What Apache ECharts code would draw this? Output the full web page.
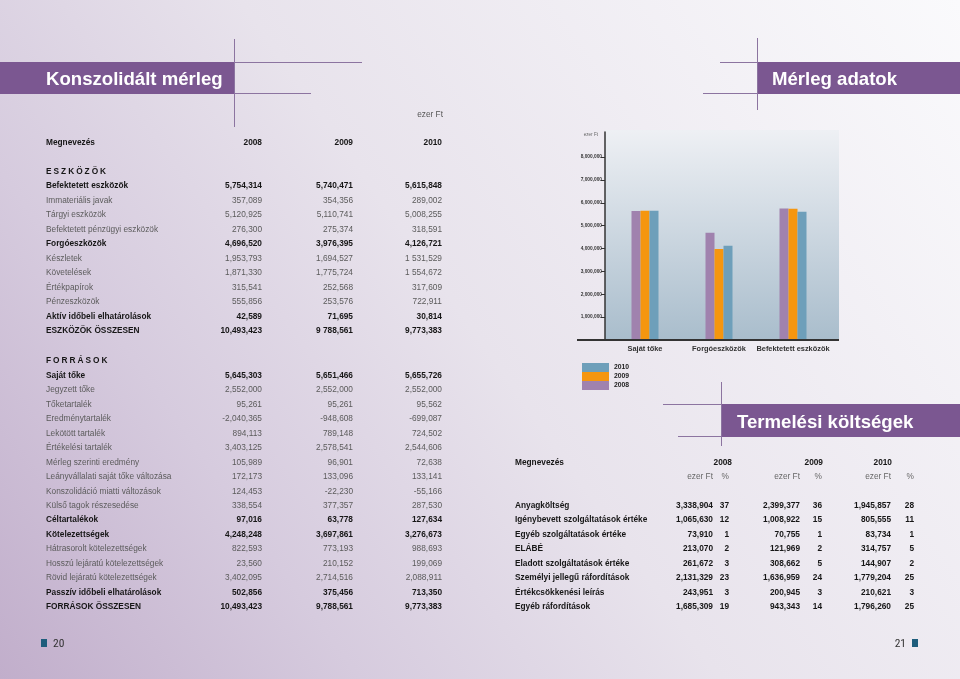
<!DOCTYPE html>
<html>
<head>
<meta charset="utf-8">
<script src="https://cdn.jsdelivr.net/npm/echarts@6/dist/echarts.min.js"></script>
<style>
html,body{margin:0;padding:0;width:960px;height:679px;overflow:hidden;}
#chart{position:absolute;left:0;top:0;width:960px;height:679px;}
#overlay{position:absolute;left:0;top:0;width:960px;height:679px;pointer-events:none;font-family:"Liberation Sans",Arial,sans-serif;}
.t{position:absolute;white-space:nowrap;height:12px;line-height:12px;}
</style>
</head>
<body>
<div id="chart"></div>
<div id="overlay"></div>
<script>
// ---------- DATA ----------
const years = ['2008', '2009', '2010'];

// Chart (Mérleg adatok)
const chartCategories = ['Saját tőke', 'Forgóeszközök', 'Befektetett eszközök'];
const chartValues2008 = [5645303, 4696520, 5754314];
const chartValues2009 = [5651466, 3976395, 5740471];
const chartValues2010 = [5655726, 4126721, 5615848];
const chartTickValues = [1000000, 2000000, 3000000, 4000000, 5000000, 6000000, 7000000, 8000000];

// Konszolidált mérleg – ESZKÖZÖK
const assetLabels = ['Befektetett eszközök', 'Immateriális javak', 'Tárgyi eszközök', 'Befektetett pénzügyi eszközök',
  'Forgóeszközök', 'Készletek', 'Követelések', 'Értékpapírok', 'Pénzeszközök', 'Aktív időbeli elhatárolások', 'ESZKÖZÖK ÖSSZESEN'];
const assetBold = [true, false, false, false, true, false, false, false, false, true, true];
const assets2008 = ['5,754,314', '357,089', '5,120,925', '276,300', '4,696,520', '1,953,793', '1,871,330', '315,541', '555,856', '42,589', '10,493,423'];
const assets2009 = ['5,740,471', '354,356', '5,110,741', '275,374', '3,976,395', '1,694,527', '1,775,724', '252,568', '253,576', '71,695', '9 788,561'];
const assets2010 = ['5,615,848', '289,002', '5,008,255', '318,591', '4,126,721', '1 531,529', '1 554,672', '317,609', '722,911', '30,814', '9,773,383'];

// Konszolidált mérleg – FORRÁSOK
const sourceLabels = ['Saját tőke', 'Jegyzett tőke', 'Tőketartalék', 'Eredménytartalék', 'Lekötött tartalék', 'Értékelési tartalék',
  'Mérleg szerinti eredmény', 'Leányvállalati saját tőke változása', 'Konszolidáció miatti változások', 'Külső tagok részesedése',
  'Céltartalékok', 'Kötelezettségek', 'Hátrasorolt kötelezettségek', 'Hosszú lejáratú kötelezettségek', 'Rövid lejáratú kötelezettségek',
  'Passzív időbeli elhatárolások', 'FORRÁSOK ÖSSZESEN'];
const sourceBold = [true, false, false, false, false, false, false, false, false, false, true, true, false, false, false, true, true];
const sources2008 = ['5,645,303', '2,552,000', '95,261', '-2,040,365', '894,113', '3,403,125', '105,989', '172,173', '124,453', '338,554', '97,016', '4,248,248', '822,593', '23,560', '3,402,095', '502,856', '10,493,423'];
const sources2009 = ['5,651,466', '2,552,000', '95,261', '-948,608', '789,148', '2,578,541', '96,901', '133,096', '-22,230', '377,357', '63,778', '3,697,861', '773,193', '210,152', '2,714,516', '375,456', '9,788,561'];
const sources2010 = ['5,655,726', '2,552,000', '95,562', '-699,087', '724,502', '2,544,606', '72,638', '133,141', '-55,166', '287,530', '127,634', '3,276,673', '988,693', '199,069', '2,088,911', '713,350', '9,773,383'];

// Termelési költségek
const costLabels = ['Anyagköltség', 'Igénybevett szolgáltatások értéke', 'Egyéb szolgáltatások értéke', 'ELÁBÉ',
  'Eladott szolgáltatások értéke', 'Személyi jellegű ráfordítások', 'Értékcsökkenési leírás', 'Egyéb ráfordítások'];
const costs2008 = ['3,338,904', '1,065,630', '73,910', '213,070', '261,672', '2,131,329', '243,951', '1,685,309'];
const costPct2008 = ['37', '12', '1', '2', '3', '23', '3', '19'];
const costs2009 = ['2,399,377', '1,008,922', '70,755', '121,969', '308,662', '1,636,959', '200,945', '943,343'];
const costPct2009 = ['36', '15', '1', '2', '5', '24', '3', '14'];
const costs2010 = ['1,945,857', '805,555', '83,734', '314,757', '144,907', '1,779,204', '210,621', '1,796,260'];
const costPct2010 = ['28', '11', '1', '5', '2', '25', '3', '25'];

// ---------- STYLE ----------
const FONT = '"Liberation Sans", Arial, sans-serif';
const PURPLE_BAND = '#7b5791';
const LINE_COL = '#8c74a0';
const C2008 = '#a082ae', C2009 = '#f5960f', C2010 = '#6e9fba';

// ---------- TEXT OVERLAY ----------
const ov = document.getElementById('overlay');
function txt(s, x, y, o) {
  o = o || {};
  const d = document.createElement('div');
  d.className = 't';
  d.textContent = s;
  const size = o.size || 8.3;
  const h = Math.ceil(size * 1.4);
  d.style.height = h + 'px';
  d.style.lineHeight = h + 'px';
  d.style.top = (y - h / 2) + 'px';
  d.style.fontSize = size + 'px';
  d.style.fontWeight = o.bold ? 'bold' : 'normal';
  d.style.color = o.color || (o.bold ? '#161616' : '#5b5b5b');
  if (o.ls) d.style.letterSpacing = o.ls + 'px';
  if (o.family) d.style.fontFamily = o.family;
  if (o.align === 'right') {
    d.style.left = (x - 300) + 'px';
    d.style.width = '300px';
    d.style.textAlign = 'right';
  } else {
    d.style.left = x + 'px';
  }
  ov.appendChild(d);
}

// Titles
txt('Konszolidált mérleg', 46, 78, {size: 18.6, bold: true, color: '#ffffff'});
txt('Mérleg adatok', 772, 78, {size: 18.6, bold: true, color: '#ffffff'});
txt('Termelési költségek', 737, 421, {size: 18.6, bold: true, color: '#ffffff'});
txt('ezer Ft', 443, 114, {align: 'right', size: 8.3, color: '#555'});

// Left table header
txt('Megnevezés', 46, 142, {bold: true});
const leftCols = [262, 353, 442];
years.forEach((y, i) => txt(y, leftCols[i], 142, {bold: true, align: 'right'}));

txt('ESZKÖZÖK', 46, 171, {bold: true, ls: 2});
assetLabels.forEach((lab, i) => {
  const y = 185 + i * 14.5;
  const b = assetBold[i];
  txt(lab, 46, y, {bold: b});
  txt(assets2008[i], leftCols[0], y, {bold: b, align: 'right'});
  txt(assets2009[i], leftCols[1], y, {bold: b, align: 'right'});
  txt(assets2010[i], leftCols[2], y, {bold: b, align: 'right'});
});

txt('FORRÁSOK', 46, 360, {bold: true, ls: 2});
sourceLabels.forEach((lab, i) => {
  const y = 375 + i * 14.44;
  const b = sourceBold[i];
  txt(lab, 46, y, {bold: b});
  txt(sources2008[i], leftCols[0], y, {bold: b, align: 'right'});
  txt(sources2009[i], leftCols[1], y, {bold: b, align: 'right'});
  txt(sources2010[i], leftCols[2], y, {bold: b, align: 'right'});
});

// Right table
txt('Megnevezés', 515, 462, {bold: true});
const yearRight = [732, 823, 892];
years.forEach((y, i) => txt(y, yearRight[i], 462, {bold: true, align: 'right'}));
const valCols = [713, 800, 891];
const pctCols = [729, 822, 914];
for (let i = 0; i < 3; i++) {
  txt('ezer Ft', valCols[i], 476, {align: 'right', color: '#666'});
  txt('%', pctCols[i], 476, {align: 'right', color: '#666'});
}
const costVals = [costs2008, costs2009, costs2010];
const costPcts = [costPct2008, costPct2009, costPct2010];
costLabels.forEach((lab, i) => {
  const y = 505 + i * 14.43;
  txt(lab, 515, y, {bold: true});
  for (let k = 0; k < 3; k++) {
    txt(costVals[k][i], valCols[k], y, {bold: true, align: 'right'});
    txt(costPcts[k][i], pctCols[k], y, {bold: true, align: 'right'});
  }
});

// Chart small texts
txt('ezer Ft', 598, 134, {align: 'right', size: 4.6, color: '#666'});

// Page numbers
const NARROW = '"Liberation Sans Narrow", "Roboto Condensed", "Liberation Sans", sans-serif';
txt('20', 53, 643, {size: 11.5, color: '#333', family: NARROW});
txt('21', 906, 643, {size: 11.5, color: '#333', family: NARROW, align: 'right'});

// ---------- CHART ----------
const chart = echarts.init(document.getElementById('chart'), null, {renderer: 'canvas'});

function hline(x1, x2, y, color, w) {
  return {type: 'line', z: 5, shape: {x1: x1, y1: y, x2: x2, y2: y}, style: {stroke: color, lineWidth: w || 1}};
}
function vline(x, y1, y2, color, w) {
  return {type: 'line', z: 5, shape: {x1: x, y1: y1, x2: x, y2: y2}, style: {stroke: color, lineWidth: w || 1}};
}

const option = {
  animation: false,
  backgroundColor: {
    type: 'linear', x: 0, y: 1, x2: 1, y2: 0,
    colorStops: [
      {offset: 0, color: '#c1aecb'},
      {offset: 0.25, color: '#d6cbde'},
      {offset: 0.5, color: '#e8e3ec'},
      {offset: 1, color: '#fafafc'}
    ]
  },
  grid: {left: 608, top: 132, width: 222, height: 208, containLabel: false},
  legend: {
    orient: 'vertical', left: 577, top: 358,
    itemWidth: 27, itemHeight: 9, itemGap: 0,
    icon: 'rect',
    data: ['2010', '2009', '2008'],
    textStyle: {fontFamily: FONT, fontSize: 6.8, fontWeight: 'bold', color: '#222', lineHeight: 9, padding: [0, 0, 0, 0]},
    selectedMode: false
  },
  xAxis: {
    type: 'category', data: chartCategories,
    axisLine: {lineStyle: {color: '#333', width: 2}},
    axisTick: {show: false},
    axisLabel: {interval: 0, hideOverlap: false, fontFamily: FONT, fontSize: 7.4, fontWeight: 'bold', color: '#333', margin: 5}
  },
  yAxis: {
    type: 'value', min: 0, max: 9100000, interval: 1000000, offset: 3,
    axisLine: {show: true, lineStyle: {color: '#333', width: 1.5}},
    splitLine: {show: false},
    axisTick: {show: true, length: 4, customValues: chartTickValues, lineStyle: {color: '#333'}},
    axisLabel: {
      customValues: chartTickValues,
      formatter: v => Number(v).toLocaleString('en-US'),
      fontFamily: FONT, fontSize: 4.8, fontWeight: 'bold', color: '#333', margin: 3
    }
  },
  series: [
    {name: '2008', type: 'bar', data: chartValues2008, barWidth: 9, barGap: '0%', itemStyle: {color: C2008}, z: 3},
    {name: '2009', type: 'bar', data: chartValues2009, barWidth: 9, barGap: '0%', itemStyle: {color: C2009}, z: 3},
    {name: '2010', type: 'bar', data: chartValues2010, barWidth: 9, barGap: '0%', itemStyle: {color: C2010}, z: 3}
  ],
  graphic: [
    // chart panel background
    {type: 'rect', z: -1, shape: {x: 605, y: 130, width: 234, height: 210},
      style: {fill: {type: 'linear', x: 0, y: 0, x2: 0, y2: 1, colorStops: [{offset: 0, color: '#eef0f4'}, {offset: 1, color: '#a9bdcc'}]}}},
    hline(577, 839, 340, '#333', 2),
    // header bands
    {type: 'rect', z: 4, shape: {x: 0, y: 62, width: 234, height: 32}, style: {fill: PURPLE_BAND}},
    {type: 'rect', z: 4, shape: {x: 757, y: 62, width: 203, height: 32}, style: {fill: PURPLE_BAND}},
    {type: 'rect', z: 4, shape: {x: 721, y: 404, width: 239, height: 33}, style: {fill: PURPLE_BAND}},
    // decorative lines
    vline(234.5, 39, 127, LINE_COL),
    hline(234, 362, 62.5, LINE_COL),
    hline(234, 311, 93.5, LINE_COL),
    vline(757.5, 38, 110, LINE_COL),
    hline(720, 757, 62.5, LINE_COL),
    hline(703, 757, 93.5, LINE_COL),
    vline(721.5, 382, 446, LINE_COL),
    hline(663, 721, 404.5, LINE_COL),
    hline(678, 721, 436.5, LINE_COL),
    // page markers
    {type: 'rect', z: 5, shape: {x: 41, y: 639, width: 6, height: 8}, style: {fill: '#1e5d7c'}},
    {type: 'rect', z: 5, shape: {x: 912, y: 639, width: 6, height: 8}, style: {fill: '#1e5d7c'}}
  ]
};
chart.setOption(option);
</script>
</body>
</html>
